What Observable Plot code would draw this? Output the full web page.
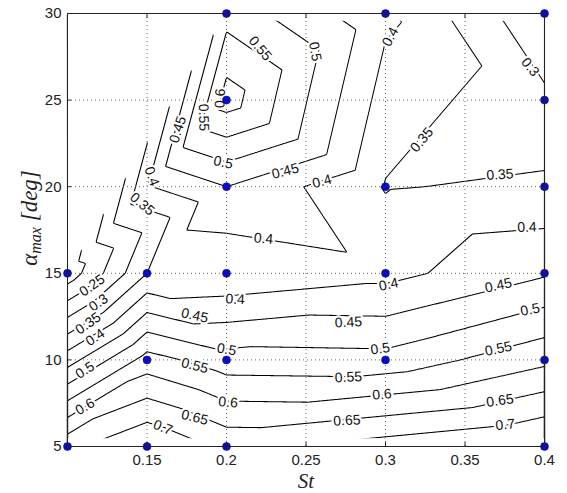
<!DOCTYPE html>
<html>
<head>
<meta charset="utf-8">
<script src="https://cdn.jsdelivr.net/npm/d3@7"></script>
<script src="https://cdn.jsdelivr.net/npm/@observablehq/plot@0.6"></script>
<style>
  html, body { margin: 0; padding: 0; background: #fff; }
</style>
</head>
<body>
<div id="chart"></div>
<script>
// ---- measured points (blue dots): Strouhal number, max pitch angle, contour value
const St       = [0.10, 0.10, 0.15, 0.15, 0.15, 0.20, 0.20, 0.20, 0.20, 0.20, 0.20, 0.30, 0.30, 0.30, 0.30, 0.40, 0.40, 0.40, 0.40, 0.40, 0.40];
const alphaMax = [5, 15, 5, 10, 15, 5, 10, 15, 20, 25, 30, 10, 15, 20, 30, 5, 10, 15, 20, 25, 30];
const value    = [0.687, 0.168, 0.750, 0.571, 0.350, 0.687, 0.521, 0.357, 0.450, 0.625, 0.530, 0.517, 0.384, 0.347, 0.410, 0.759, 0.587, 0.444, 0.359, 0.311, 0.255];

// ---- contour levels
const levels = [0.2, 0.25, 0.3, 0.35, 0.4, 0.45, 0.5, 0.55, 0.6, 0.65, 0.7];

// ---- ticks
const xTicks = [0.1, 0.15, 0.2, 0.25, 0.3, 0.35, 0.4];
const xTickLabels = [0.15, 0.2, 0.25, 0.3, 0.35, 0.4];
const yTicks = [5, 10, 15, 20, 25, 30];
const xGrid = [0.15, 0.2, 0.25, 0.3, 0.35];
const yGrid = [10, 15, 20, 25];

// ---- inline contour labels (St, alpha, text, angle)
const labelSt    = [0.1155, 0.1195, 0.113, 0.1174, 0.111, 0.111, 0.160, 0.2054, 0.180, 0.200, 0.180, 0.201, 0.180, 0.2233, 0.302, 0.2767, 0.371, 0.2967, 0.391, 0.2767, 0.371, 0.2978, 0.2757, 0.372, 0.3753, 0.389, 0.2557, 0.303, 0.3229, 0.372, 0.391, 0.260, 0.2212, 0.196, 0.1856, 0.1694, 0.198, 0.237, 0.153, 0.147];
const labelAlpha = [14.3, 13.3, 12.1, 11.3, 9.4, 7.3, 6.1, 13.5, 12.56, 10.6, 9.67, 7.55, 6.68, 17.0, 14.35, 12.17, 14.3, 10.64, 12.9, 9.0, 10.64, 8.0, 6.5, 7.65, 6.26, 17.66, 27.8, 28.65, 22.7, 20.7, 26.9, 20.3, 27.98, 25.1, 24.0, 23.3, 21.4, 20.9, 20.6, 19.0];
const labelText  = ["0.25", "0.3", "0.35", "0.4", "0.5", "0.6", "0.7", "0.4", "0.45", "0.5", "0.55", "0.6", "0.65", "0.4", "0.4", "0.45", "0.45", "0.5", "0.5", "0.55", "0.55", "0.6", "0.65", "0.65", "0.7", "0.4", "0.5", "0.4", "0.35", "0.35", "0.3", "0.4", "0.55", "0.6", "0.55", "0.45", "0.5", "0.45", "0.4", "0.35"];
const labelAngle = [-35, -35, -35, -33, -33, -30, 22, 3, 12, 10, 14, 5, 14, 5, -12, -3, -12, -8, -12, -3, -12, -5, -3, -8, -6, -2, 80, -62, -50, -4, 50, -15, 50, -88, 88, -72, 12, -15, 70, 40];

const data = St.map((s, i) => ({St: s, alpha: alphaMax[i], v: value[i]}));
const labels = labelText.map((t, i) => ({St: labelSt[i], alpha: labelAlpha[i], text: t, angle: labelAngle[i]}));

// region outside the convex hull of the measurements is left blank
function chain(pts, upper) {
  const byX = d3.groups(pts, p => p[0]).map(([x, g]) => [x, upper ? d3.max(g, p => p[1]) : d3.min(g, p => p[1])]);
  byX.sort((a, b) => a[0] - b[0]);
  const h = [];
  for (const p of byX) {
    while (h.length >= 2) {
      const o = h[h.length - 2], a = h[h.length - 1];
      const cross = (a[0] - o[0]) * (p[1] - o[1]) - (a[1] - o[1]) * (p[0] - o[0]);
      if (upper ? cross >= 0 : cross <= 0) h.pop(); else break;
    }
    h.push(p);
  }
  return h;
}
const pts = data.map(d => [d.St, d.alpha]);
const xDom = d3.extent(xTicks), yDom = d3.extent(yTicks);
const upperHull = chain(pts, true);
const lowerHull = chain(pts, false);
const edgeTrim = 0.45; // interpolation grid stops just short of the top and bottom rows

const plot = Plot.plot({
  width: 567,
  height: 493,
  marginLeft: 67,
  marginRight: 23,
  marginTop: 13,
  marginBottom: 47,
  style: {fontFamily: "'Liberation Sans', Arial, sans-serif", fontSize: "15px", background: "#fff", color: "#222", overflow: "visible"},
  x: {domain: xDom},
  y: {domain: yDom},
  marks: [
    Plot.contour(data, {
      x: "St", y: "alpha", value: "v",
      x1: xDom[0], x2: xDom[1], y1: yDom[0], y2: yDom[1],
      thresholds: levels, interpolate: "barycentric", pixelSize: 1,
      stroke: "#000", strokeWidth: 1.05, fill: "none"
    }),
    Plot.areaY(upperHull, {x: d => d[0], y1: d => d[1], y2: yDom[1], fill: "#fff", curve: "linear"}),
    Plot.areaY(lowerHull, {x: d => d[0], y1: yDom[0], y2: d => d[1], fill: "#fff", curve: "linear"}),
    Plot.rect([0], {x1: xDom[0], x2: xDom[1], y1: yDom[0], y2: yDom[0] + edgeTrim, fill: "#fff"}),
    Plot.rect([0], {x1: xDom[0], x2: xDom[1], y1: yDom[1] - edgeTrim, y2: yDom[1], fill: "#fff"}),
    Plot.gridX(xGrid, {stroke: "#666", strokeOpacity: 1, strokeWidth: 1, strokeDasharray: "1,3"}),
    Plot.gridY(yGrid, {stroke: "#666", strokeOpacity: 1, strokeWidth: 1, strokeDasharray: "1,3"}),
    Plot.text(labels, {
      x: "St", y: "alpha", text: "text", rotate: "angle",
      fontSize: 14, fill: "#111", stroke: "#fff", strokeWidth: 4.5
    }),
    Plot.dot(data, {x: "St", y: "alpha", r: 4, fill: "#0c0cc2", stroke: "#08088a", strokeWidth: 0.5}),
    Plot.frame({stroke: "#222", strokeWidth: 1}),
    Plot.axisX(xTicks, {anchor: "bottom", tickSize: -4, tickFormat: () => "", label: null, stroke: "#222"}),
    Plot.axisX(xTicks, {anchor: "top", tickSize: -4, tickFormat: () => "", label: null, stroke: "#222"}),
    Plot.axisY(yTicks, {anchor: "left", tickSize: -4, tickFormat: () => "", label: null, stroke: "#222"}),
    Plot.axisY(yTicks, {anchor: "right", tickSize: -4, tickFormat: () => "", label: null, stroke: "#222"}),
    Plot.axisX(xTickLabels, {anchor: "bottom", tickSize: 0, tickPadding: 8, label: null, fontSize: 15, fill: "#222", tickFormat: d => String(d)}),
    Plot.axisY(yTicks, {anchor: "left", tickSize: 0, tickPadding: 6, label: null, fontSize: 15, fill: "#222", tickFormat: d => String(d)}),
    Plot.text(["St"], {frameAnchor: "bottom", dy: 35, lineAnchor: "middle", fontFamily: "'Liberation Serif', 'Times New Roman', serif", fontStyle: "italic", fontSize: 21, fill: "#222"})
  ]
});

// y-axis title with subscript
const svg = d3.select(plot);
const yt = svg.append("text")
  .attr("transform", "translate(32,218) rotate(-90)")
  .attr("text-anchor", "middle")
  .attr("dominant-baseline", "middle")
  .attr("font-family", "'Liberation Serif', 'Times New Roman', serif")
  .attr("font-style", "italic")
  .attr("font-size", 23)
  .attr("fill", "#222");
yt.append("tspan").text("α");
yt.append("tspan").attr("font-size", 16).attr("dy", 5).text("max");
yt.append("tspan").attr("dy", -5).text(" [deg]");

document.getElementById("chart").appendChild(plot);
</script>
</body>
</html>
